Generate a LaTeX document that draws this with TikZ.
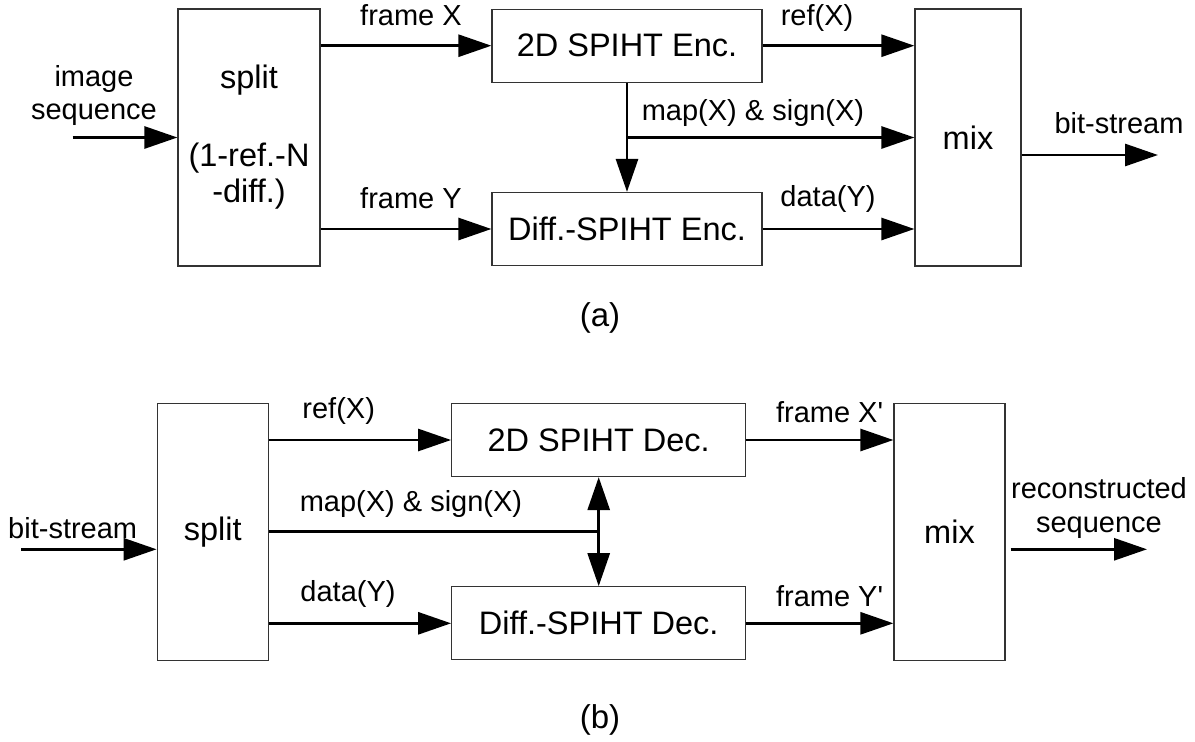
\documentclass[tikz,border=0pt]{standalone}
\usepackage{fontspec}
\setmainfont{Liberation Sans}
\usetikzlibrary{arrows.meta}
\tikzset{
  block/.style={draw=black!80, line width=1.2pt, rectangle, inner sep=0pt,
    align=center, font=\fontsize{32.5}{36}\selectfont},
  lbl/.style={anchor=base, inner sep=0pt, font=\fontsize{29}{34}\selectfont, align=center},
  caption/.style={anchor=base, inner sep=0pt, font=\fontsize{33}{38}\selectfont},
  flow/.style={line width=2.8pt, -{Triangle[length=33pt,width=22pt]}},
  flowboth/.style={line width=2.8pt, {Triangle[length=33pt,width=22pt]}-{Triangle[length=33pt,width=22pt]}},
  plain/.style={line width=2.8pt}
}
\begin{document}
\begin{tikzpicture}[x=1pt,y=-1pt]
\useasboundingbox (0,0) rectangle (1195,742);

% ---------------- encoder (a) ----------------
\node[block, minimum width=142pt, minimum height=257pt] (splitA) at (249,137.5)
  {split\\[42pt](1-ref.-N\\-diff.)};
\node[block, minimum width=270pt, minimum height=73pt] (encX) at (627,45.7) {2D SPIHT Enc.};
\node[block, minimum width=270pt, minimum height=73pt] (encY) at (627,229) {Diff.-SPIHT Enc.};
\node[block, minimum width=106pt, minimum height=257pt] (mixA) at (968,137.5) {mix};

\coordinate (inA) at (72.7,137.5);
\coordinate (jA) at (627,137.5);
\coordinate (outA) at (1158,155);

\draw[flow] (inA) -- (splitA.west);
\draw[flow] (splitA.east |- encX.west) -- (encX.west);
\draw[flow] (splitA.east |- encY.west) -- (encY.west);
\draw[flow] (encX.east) -- (encX.east -| mixA.west);
\draw[flow] (encY.east) -- (encY.east -| mixA.west);
\draw[flow] (encX.south) -- (encY.north);
\draw[flow] (jA) -- (mixA.west);
\draw[flow] (mixA.east |- outA) -- (outA);

\node[lbl] (tImg) at (94,86) {image};
\node[lbl] (tSeq) at (94,119) {sequence};
\node[lbl] (tFX) at (411,25) {frame X};
\node[lbl] (tFY) at (411,208.3) {frame Y};
\node[lbl] (tRefA) at (817,25) {ref(X)};
\node[lbl] (tMapA) at (753,120) {map(X) \& sign(X)};
\node[lbl] (tDataA) at (828,206.7) {data(Y)};
\node[lbl] (tBsA) at (1119,133.3) {bit-stream};
\node[caption] (capA) at (600,326.7) {(a)};

% ---------------- decoder (b) ----------------
\node[block, minimum width=111pt, minimum height=257pt] (splitB) at (212.7,531.7) {split};
\node[block, minimum width=294pt, minimum height=73pt] (decX) at (598.7,440) {2D SPIHT Dec.};
\node[block, minimum width=294pt, minimum height=73pt] (decY) at (598.7,623.3) {Diff.-SPIHT Dec.};
\node[block, minimum width=111pt, minimum height=257pt] (mixB) at (949.5,531.7) {mix};

\coordinate (inB) at (21,549.3);
\coordinate (outB) at (1147,549.3);

\draw[flow] (inB) -- (inB -| splitB.west);
\draw[flow] (splitB.east |- decX.west) -- (decX.west);
\draw[flow] (splitB.east |- decY.west) -- (decY.west);
\draw[plain] (splitB.east) -- (splitB.east -| decX.south);
\draw[flowboth] (decX.south) -- (decY.north);
\draw[flow] (decX.east) -- (decX.east -| mixB.west);
\draw[flow] (decY.east) -- (decY.east -| mixB.west);
\draw[flow] ([xshift=5pt]mixB.east |- outB) -- (outB);

\node[lbl] (tBsB) at (72.7,538.3) {bit-stream};
\node[lbl] (tRefB) at (338.7,418.3) {ref(X)};
\node[lbl] (tMapB) at (411,511.7) {map(X) \& sign(X)};
\node[lbl] (tDataB) at (348,601.7) {data(Y)};
\node[lbl] (tFXp) at (829.6,422.7) {frame X\textquotesingle};
\node[lbl] (tFYp) at (829.6,606) {frame Y\textquotesingle};
\node[lbl] (tRec) at (1099,498.3) {reconstructed};
\node[lbl] (tSeqB) at (1099,532) {sequence};
\node[caption] (capB) at (600,728.3) {(b)};
\end{tikzpicture}
\end{document}
